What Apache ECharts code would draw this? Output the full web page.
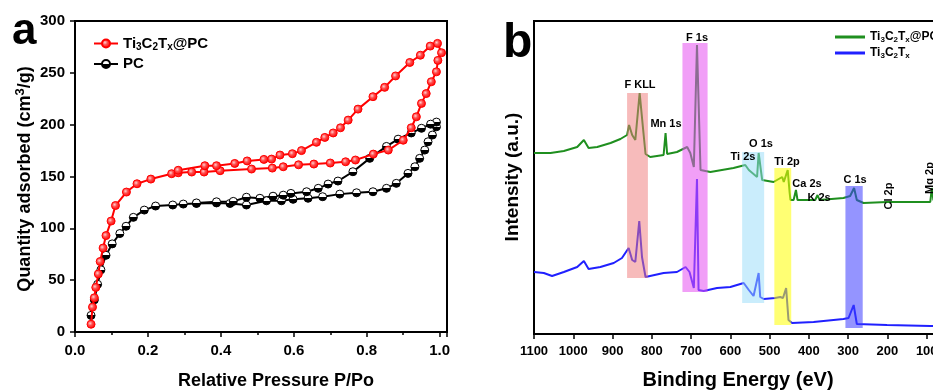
<!DOCTYPE html>
<html><head><meta charset="utf-8">
<script src="https://cdn.jsdelivr.net/npm/echarts@6/dist/echarts.min.js"></script>
<style>html,body{margin:0;padding:0;background:#fff}#c{width:933px;height:391px}</style>
</head><body><div id="c"></div>
<script>
// ---------- Panel a: N2 isotherms (P/Po, cm3/g) ----------
const tiPcP = [0.044,0.048,0.053,0.057,0.064,0.069,0.077,0.085,0.099,0.111,0.141,0.17,0.208,0.265,0.283,0.32,0.354,0.398,0.484,0.541,0.571,0.613,0.655,0.70,0.742,0.769,0.818,0.859,0.90,0.922,0.936,0.95,0.963,0.977,0.991,0.995,1.005,0.994,
  0.974,0.947,0.918,0.879,0.849,0.817,0.776,0.749,0.728,0.708,0.685,0.662,0.621,0.596,0.562,0.539,0.518,0.472,0.438,0.388,0.356,0.283];
const tiPcQ = [7.5,24,33,43,56,68,81,93,107,122,135,143,147.5,152.7,153.6,154.3,154.3,155.6,157.2,158.1,159.4,161.3,162,163,164.2,165.9,171.6,175.5,185,197,207.6,220.5,230,241.4,251,262,269.4,278.4,
  275.8,267,260,247,236,227,215,204.4,197,192,187.7,183,175,172,170.7,166.8,166.5,165,162.6,160.4,160.4,156];
const pcP = [0.044,0.053,0.062,0.071,0.085,0.102,0.123,0.140,0.160,0.19,0.221,0.268,0.297,0.333,0.388,0.425,0.47,0.525,0.566,0.598,0.639,0.679,0.726,0.772,0.817,0.854,0.881,0.913,0.932,0.945,0.959,0.968,0.98,0.991,0.991,
  0.975,0.95,0.922,0.886,0.854,0.808,0.762,0.721,0.694,0.667,0.635,0.592,0.571,0.543,0.507,0.47,0.434,0.388,0.333];
const pcQ = [16,31,46,60,74,85,95,102,110.6,117.6,121.5,122.5,123.4,124,124.5,124,122.5,126.6,126.6,128,129,130.5,133,134.3,135.3,138.6,143.4,153,159.4,167.5,175.5,183.5,190,198,202.5,
  200.5,196.5,192,186,179,167.5,154.6,145.6,142.7,138.6,135.3,133.7,132,131,129,130,126,125.6,124.5];
const aXTicks = [0.0,0.2,0.4,0.6,0.8,1.0];
const aYTicks = [0,50,100,150,200,250,300];

// ---------- Panel b: XPS survey (eV, a.u.) ----------
const greenBE = [1100,1099,1058,1024,990,973,961,939,905,880,863,858,850,842,831,822,816,804,770,765,761,736,710,702,693,685,676,651,592,562,553,532,528,519,490,468,464,454,449,447,439,433,429,384,378,373,312,295,285,278,261,201,193,91,87,83,0];
const greenI  = [181,181,181,183,187,194,186,187,191,195,199,209,199,194,241,204,180,177,179,201,180,182,187,181,167,289,164,162,166,169,164,157,181,154,152,157,152,164,141,134,134,144,134,134,139,134,136,138,146,134,131,132,132,132,146,134,134];
const blueBE = [1100,1096,1075,1054,1024,990,973,961,931,897,876,859,850,842,832,825,816,770,736,714,704,693,685,681,668,634,600,566,553,541,528,524,515,486,473,466,458,452,443,388,312,299,286,278,201,197,91,0];
const blueI  = [62,62,61,58,62,67,73,65,67,71,76,86,74,72,113,77,57,61,62,67,62,46,155,44,43,46,47,51,44,38,61,37,35,36,37,36,46,14,11,12,15,16,29,10,9,10,8,8];
const bXTicks = [1100,1000,900,800,700,600,500,400,300,200,100,0];
// highlighted regions
const bandNames = ['F KLL','F 1s','Ti 2s / O 1s','Ti 2p','C 1s'];
const bandBEHigh = [863,722,570,488,307];
const bandBELow  = [810,658,514,445,263];
const bandITop   = [241,291,182,166,148];
const bandIBot   = [56,42,31,9,6];
const bandColors = ['rgba(240,120,120,0.5)','rgba(230,80,240,0.55)','rgba(150,220,250,0.5)','rgba(255,255,0,0.55)','rgba(60,60,255,0.55)'];

const zip = (a,b) => a.map((v,i)=>[v,b[i]]);
const FF = 'Liberation Sans, Arial, sans-serif';
const black = '#000';

const chart = echarts.init(document.getElementById('c'), null, {renderer:'canvas'});

const richA = {
  n:{fontFamily:FF,fontWeight:'bold',fontSize:15,color:black,lineHeight:18},
  s:{fontFamily:FF,fontWeight:'bold',fontSize:10,color:black,verticalAlign:'bottom'}
};
const richB = {
  n:{fontFamily:FF,fontWeight:'bold',fontSize:12,color:black,lineHeight:14},
  s:{fontFamily:FF,fontWeight:'bold',fontSize:8,color:black,verticalAlign:'bottom'}
};
const legendText = {
  'Ti3C2Tx@PC':'{n|Ti}{s|3}{n|C}{s|2}{n|T}{s|x}{n|@PC}',
  'PC':'{n|PC}',
  'Ti3C2Tx@PC XPS':'{n|Ti}{s|3}{n|C}{s|2}{n|T}{s|x}{n|@PC}',
  'Ti3C2Tx XPS':'{n|Ti}{s|3}{n|C}{s|2}{n|T}{s|x}'
};

const axisLineStyle = {show:true, lineStyle:{color:black,width:2}};
const tickStyle = {show:true, inside:false, length:5, lineStyle:{color:black,width:1.5}};

const isTick = (v, arr) => arr.some(t => Math.abs(t - v) < 1e-6);

const option = {
  animation:false,
  backgroundColor:'#fff',
  grid:[
    {left:75, top:21, right:486, bottom:59, show:true, borderColor:black, borderWidth:2, backgroundColor:'transparent', containLabel:false, outerBoundsMode:'none'},
    {left:534, top:21, width:432, bottom:57, show:true, borderColor:black, borderWidth:2, backgroundColor:'transparent', containLabel:false, outerBoundsMode:'none'}
  ],
  xAxis:[
    {type:'value', gridIndex:0, min:0, max:1.02, interval:0.2,
     axisLine:axisLineStyle, axisTick:tickStyle,
     minorTick:{show:true, splitNumber:2, length:3, lineStyle:{color:black,width:1.5}},
     splitLine:{show:false}, minorSplitLine:{show:false},
     axisLabel:{margin:11, color:black, fontFamily:FF, fontWeight:'bold', fontSize:15,
       formatter:v => isTick(v, aXTicks) ? v.toFixed(1) : ''}},
    {type:'value', gridIndex:1, min:0, max:1100, interval:100, inverse:true,
     axisLine:axisLineStyle, axisTick:tickStyle, splitLine:{show:false},
     axisLabel:{margin:11, color:black, fontFamily:FF, fontWeight:'bold', fontSize:13, hideOverlap:false,
       formatter:v => isTick(v, bXTicks) ? String(v) : ''}}
  ],
  yAxis:[
    {type:'value', gridIndex:0, min:0, max:300, interval:50,
     axisLine:axisLineStyle, axisTick:tickStyle, splitLine:{show:false},
     axisLabel:{margin:10, color:black, fontFamily:FF, fontWeight:'bold', fontSize:15,
       formatter:v => isTick(v, aYTicks) ? String(v) : ''}},
    {type:'value', gridIndex:1, min:0, max:313,
     axisLine:axisLineStyle, axisTick:{show:false}, axisLabel:{show:false}, splitLine:{show:false}}
  ],
  legend:[
    {orient:'vertical', left:88, top:31, itemWidth:24, itemHeight:10, itemGap:4,
     data:['Ti3C2Tx@PC','PC'], formatter:n => legendText[n],
     textStyle:{fontFamily:FF, fontWeight:'bold', fontSize:15, color:black, rich:richA}},
    {orient:'vertical', left:830, top:26, itemWidth:30, itemHeight:3, itemGap:3, icon:'rect',
     data:['Ti3C2Tx@PC XPS','Ti3C2Tx XPS'], formatter:n => legendText[n],
     textStyle:{fontFamily:FF, fontWeight:'bold', fontSize:12, color:black, rich:richB}}
  ],
  series:[
    {type:'line', name:'PC', xAxisIndex:0, yAxisIndex:0, data:zip(pcP,pcQ),
     symbol:'circle', symbolSize:8, showAllSymbol:true, z:2,
     lineStyle:{color:black,width:2},
     itemStyle:{color:{type:'linear',x:0,y:0,x2:0,y2:1,colorStops:[
       {offset:0,color:'#ffffff'},{offset:0.5,color:'#ffffff'},{offset:0.5,color:'#000000'},{offset:1,color:'#000000'}]},
       borderColor:black, borderWidth:1}},
    {type:'line', name:'Ti3C2Tx@PC', xAxisIndex:0, yAxisIndex:0, data:zip(tiPcP,tiPcQ),
     symbol:'circle', symbolSize:8, showAllSymbol:true, z:3,
     lineStyle:{color:'#ff0000',width:2},
     itemStyle:{color:{type:'radial',x:0.4,y:0.4,r:0.6,colorStops:[
       {offset:0,color:'#ffd0d0'},{offset:0.4,color:'#ff5050'},{offset:1,color:'#ff0000'}]},
       borderColor:'#ff0000', borderWidth:1}},
    {type:'line', name:'Ti3C2Tx@PC XPS', xAxisIndex:1, yAxisIndex:1, data:zip(greenBE,greenI),
     symbol:'none', z:2, lineStyle:{color:'#1f8f1f',width:2}, itemStyle:{color:'#1f8f1f'}},
    {type:'line', name:'Ti3C2Tx XPS', xAxisIndex:1, yAxisIndex:1, data:zip(blueBE,blueI),
     symbol:'none', z:2, lineStyle:{color:'#2020ff',width:2}, itemStyle:{color:'#2020ff'}},
    {type:'line', name:'bands', xAxisIndex:1, yAxisIndex:1, data:[], z:10, silent:true,
     markArea:{silent:true, z:10, label:{show:false},
       data: bandNames.map((nm,i)=>[
         {name:nm, xAxis:bandBEHigh[i], yAxis:bandITop[i], itemStyle:{color:bandColors[i]}},
         {xAxis:bandBELow[i], yAxis:bandIBot[i]}])}}
  ],
  graphic:[
    {type:'text', left:12, top:10, style:{text:'a', fontFamily:FF, fontWeight:'bold', fontSize:44, fill:black}},
    {type:'text', left:503, top:20, style:{text:'b', fontFamily:FF, fontWeight:'bold', fontSize:48, fill:black}},
    {type:'text', x:276, y:381, style:{text:'Relative Pressure P/Po', align:'center', verticalAlign:'middle', fontFamily:FF, fontWeight:'bold', fontSize:18, fill:black}},
    {type:'text', x:25, y:179, rotation:Math.PI/2, style:{text:'{t|Quantity adsorbed (cm}{u|3}{t|/g)}', align:'center', verticalAlign:'middle',
      rich:{t:{fontFamily:FF,fontWeight:'bold',fontSize:18,fill:black,lineHeight:22}, u:{fontFamily:FF,fontWeight:'bold',fontSize:13,fill:black,verticalAlign:'top'}}}},
    {type:'text', x:738, y:380, style:{text:'Binding Energy (eV)', align:'center', verticalAlign:'middle', fontFamily:FF, fontWeight:'bold', fontSize:20, fill:black}},
    {type:'text', x:513, y:177, rotation:Math.PI/2, style:{text:'Intensity (a.u.)', align:'center', verticalAlign:'middle', fontFamily:FF, fontWeight:'bold', fontSize:19, fill:black}},
    ...[
      ['F KLL',640,85,0],['F 1s',697,38,0],['Mn 1s',666,124,0],['Ti 2s',743,157,0],['O 1s',761,144,0],
      ['Ti 2p',787,162,0],['Ca 2s',807,184,0],['K 2s',819,198,0],['C 1s',855,180,0],['Cl 2p',889,196,1],['Mg 2p',930,178,1]
    ].map(([t,x,y,r]) => ({type:'text', x, y, rotation:r?Math.PI/2:0, z:20,
      style:{text:t, align:'center', verticalAlign:'middle', fontFamily:FF, fontWeight:'bold', fontSize:11, fill:black}}))
  ]
};
chart.setOption(option);
</script></body></html>
